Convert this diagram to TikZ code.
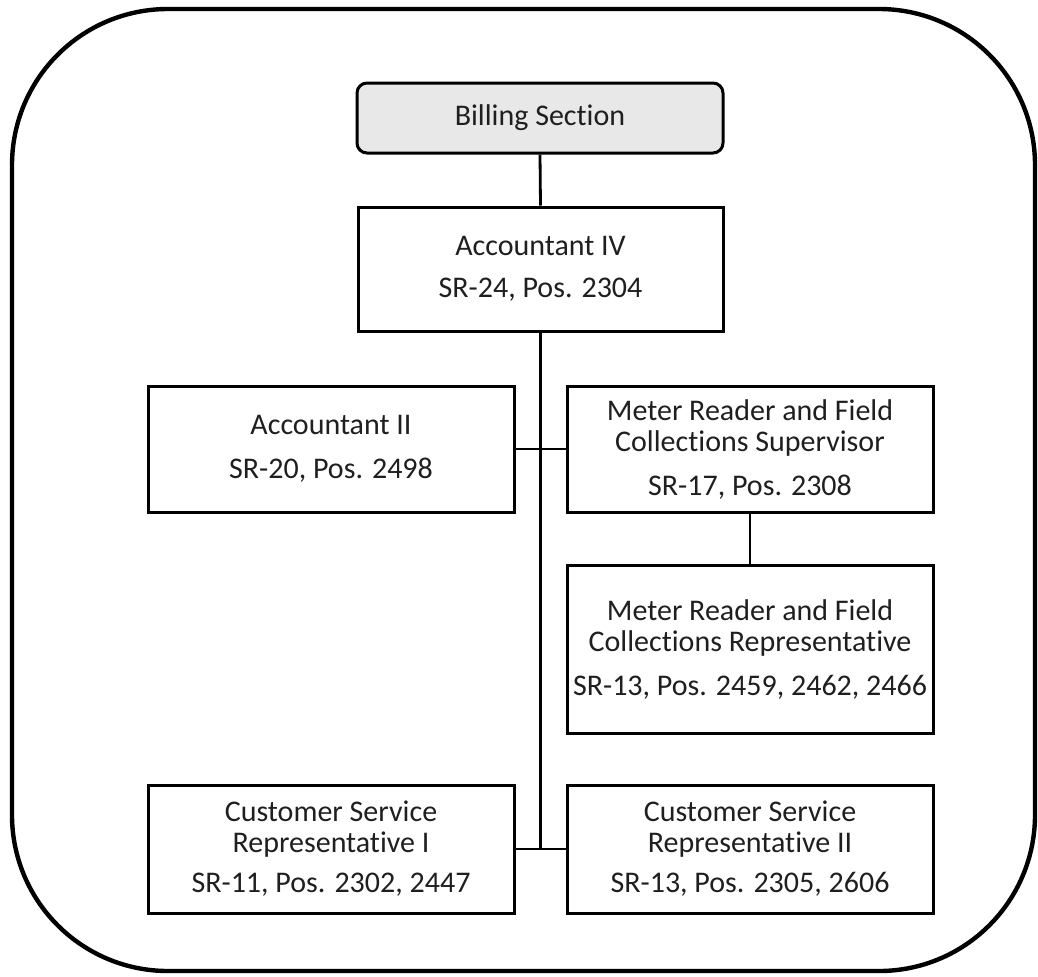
\documentclass[tikz,border=0pt]{standalone}
\usepackage{fontspec}
\setmainfont{Carlito}[Ligatures=NoCommon]
\begin{document}
\begin{tikzpicture}[x=0.5pt,y=-0.5pt,
  box/.style={draw=black, line width=1.5pt, fill=white, align=center,
    inner sep=0pt, text=black!88,
    font=\fontsize{15}{15.5}\selectfont},
  headbox/.style={box, fill=black!9, rounded corners=5pt},
  link/.style={draw=black, line width=1.4pt}
]
\useasboundingbox (0,0) rectangle (1038,976);
\draw[line width=2.2pt, rounded corners=78pt] (12,9) rectangle (1035,971);

\node[headbox, minimum width=183pt, minimum height=35pt] (bill) at (540,118) {Billing Section};
\node[box, minimum width=182.5pt, minimum height=62pt] (acc4) at (540.5,269)
  {Accountant IV\\[5.5pt]SR-24, Pos. 2304};
\node[box, minimum width=183pt, minimum height=63pt] (acc2) at (331,449)
  {Accountant II\\[6.5pt]SR-20, Pos. 2498};
\node[box, minimum width=183pt, minimum height=63pt] (sup) at (750,449)
  {Meter Reader and Field\\Collections Supervisor\\[6.5pt]SR-17, Pos. 2308};
\node[box, minimum width=183pt, minimum height=84pt] (rep) at (750,649)
  {Meter Reader and Field\\Collections Representative\\[6.5pt]SR-13, Pos. 2459, 2462, 2466};
\node[box, minimum width=183pt, minimum height=64pt] (csr1) at (331,849)
  {Customer Service\\Representative I\\[4.5pt]SR-11, Pos. 2302, 2447};
\node[box, minimum width=183pt, minimum height=64pt] (csr2) at (750,849)
  {Customer Service\\Representative II\\[4.5pt]SR-13, Pos. 2305, 2606};

\coordinate (trunkend) at (acc4.south |- csr1.east);
\draw[link] (bill.south) -- (acc4.north);
\draw[link] (acc4.south) -- (trunkend);
\draw[link] (acc2.east) -- (sup.west);
\draw[link] (csr1.east) -- (csr2.west);
\draw[link] (sup.south) -- (rep.north);
\end{tikzpicture}
\end{document}
